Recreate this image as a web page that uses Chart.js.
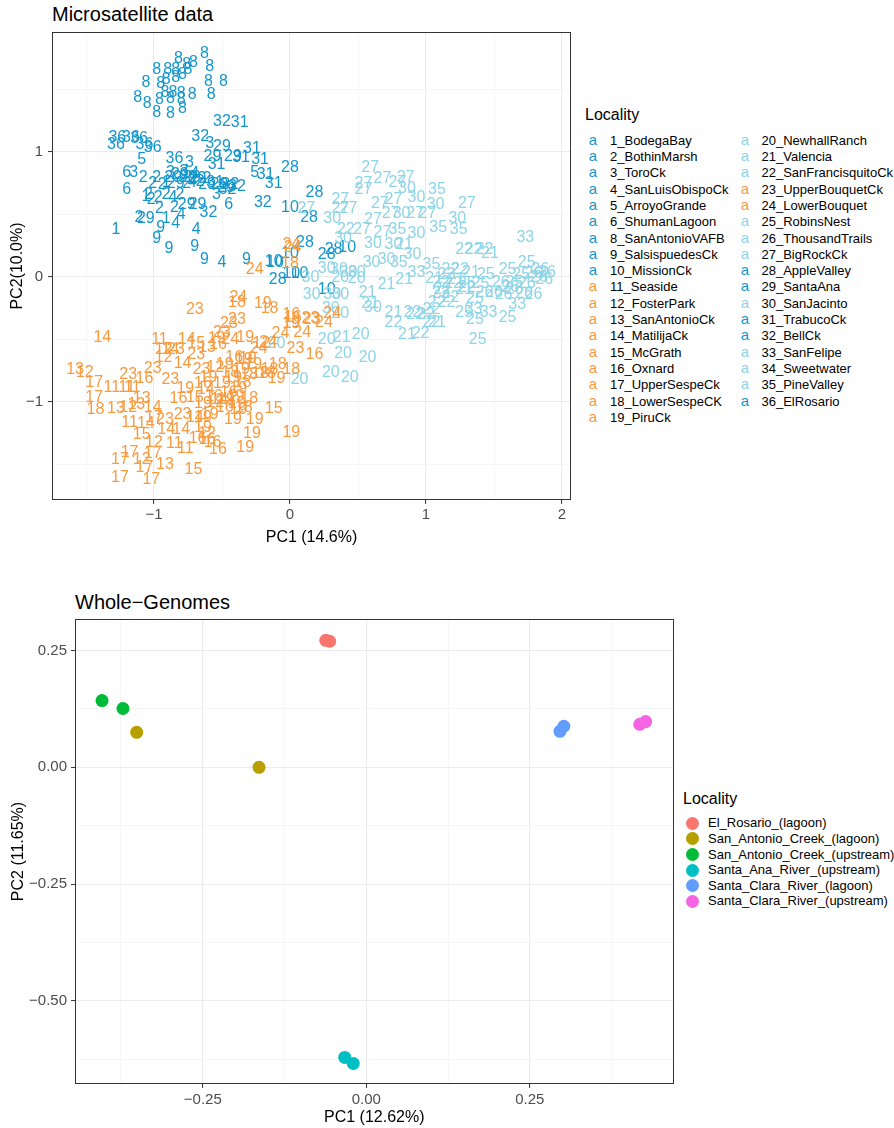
<!DOCTYPE html>
<html>
<head>
<meta charset="utf-8">
<script src="https://cdn.jsdelivr.net/npm/chart.js@4.4.0/dist/chart.umd.min.js"></script>
<style>
body { margin: 0; background: #fff; font-family: "Liberation Sans", Arial, sans-serif; }
#page { position: relative; width: 894px; height: 1128px; overflow: hidden; }
canvas { position: absolute; left: 0; }
.title { position: absolute; font-size: 20px; line-height: 24px; color: #000; white-space: nowrap; }
.legtitle { position: absolute; font-size: 16px; line-height: 20px; color: #000; white-space: nowrap; }
.legtext { position: absolute; font-size: 13px; line-height: 16px; color: #000; white-space: nowrap; }
.legkey { position: absolute; font-size: 15px; line-height: 16px; width: 16px; text-align: center; }
.legdot { position: absolute; width: 13px; height: 13px; border-radius: 50%; }
</style>
</head>
<body>
<div id="page">
  <div class="title" style="left:52px; top:2px;">Microsatellite data</div>
  <canvas id="msat" width="580" height="560" style="top:0px"></canvas>
  <div id="msatLegend"></div>

  <div class="title" style="left:75px; top:590px;">Whole−Genomes</div>
  <canvas id="wg" width="680" height="538" style="top:590px"></canvas>
  <div id="wgLegend"></div>
</div>
<script>
// ---- Microsatellite PCA (labels are locality numbers) ----
var localityNames = ["1_BodegaBay","2_BothinMarsh","3_ToroCk","4_SanLuisObispoCk","5_ArroyoGrande",
  "6_ShumanLagoon","8_SanAntonioVAFB","9_SalsispuedesCk","10_MissionCk","11_Seaside","12_FosterPark",
  "13_SanAntonioCk","14_MatilijaCk","15_McGrath","16_Oxnard","17_UpperSespeCk","18_LowerSespeCK",
  "19_PiruCk","20_NewhallRanch","21_Valencia","22_SanFrancisquitoCk","23_UpperBouquetCk",
  "24_LowerBouquet","25_RobinsNest","26_ThousandTrails","27_BigRockCk","28_AppleValley",
  "29_SantaAna","30_SanJacinto","31_TrabucoCk","32_BellCk","33_SanFelipe","34_Sweetwater",
  "35_PineValley","36_ElRosario"];
var blueNums = [1,2,3,4,5,6,8,9,10,28,29,31,32,36];
var orangeNums = [11,12,13,14,15,16,17,18,19,23,24];

// dark blue group
var blueLoc = [8,8,8,8,8,8,8,8,8,8,8,8,8,8,8,8,8,8,8,8,8,8,8,8,8,8,8,8,8,
  32,31,32,36,36,36,36,36,36,29,3,29,29,31,31,31,5,36,3,5,31,31,28,31,6,3,2,6,
  3,29,29,4,29,2,2,2,1,29,2,29,29,32,32,2,1,2,2,4,2,3,6,32,32,29,29,2,2,4,1,29,2,
  1,9,4,9,4,9,9,9,4,9,28,10,28,10,10,28,10,10,10,28,28,28,10,10,
  29,2,3,31,29,2,2,4,29,32];
var bluePC1 = [-0.63,-0.82,-0.71,-0.76,-0.98,-0.90,-0.84,-0.75,-0.59,-1.06,-0.91,-0.95,-0.84,-0.79,-0.60,-0.49,-1.12,-1.05,-0.96,-0.88,-0.92,-0.86,-0.80,-0.80,-0.72,-0.58,-0.98,-0.88,-0.79,
  -0.50,-0.37,-0.66,-1.27,-1.17,-1.11,-1.28,-1.01,-1.07,-0.50,-0.59,-0.57,-0.42,-0.28,-0.36,-0.22,-1.09,-0.85,-0.74,-0.26,-0.18,-0.12,0.00,-0.54,-1.20,-1.15,-1.08,-1.20,
  -0.88,-0.81,-0.75,-0.70,-0.68,-0.61,-0.98,-1.01,-0.91,-0.84,-0.76,-0.61,-0.52,-0.44,-0.39,-1.04,-1.06,-0.97,-0.91,-0.86,-0.81,-0.54,-0.45,-0.60,-0.20,-0.68,-0.76,-0.96,-0.85,-0.80,-0.91,-1.06,-1.11,
  -1.28,-0.95,-0.84,-0.98,-0.69,-0.89,-0.70,-0.63,-0.50,-0.32,0.18,0.00,0.14,-0.12,0.27,-0.09,0.01,-0.11,0.00,0.11,0.27,0.32,0.42,0.07,
  -0.72,-0.66,-0.78,-0.55,-0.86,-0.94,-1.02,-0.72,-0.47,-0.46];
var bluePC2 = [1.79,1.75,1.72,1.70,1.66,1.66,1.66,1.66,1.69,1.56,1.58,1.55,1.60,1.62,1.57,1.57,1.44,1.39,1.42,1.43,1.48,1.48,1.47,1.42,1.46,1.46,1.32,1.31,1.35,
  1.25,1.24,1.13,1.12,1.12,1.11,1.06,1.04,1.06,1.05,1.07,0.97,0.97,1.03,0.96,0.94,0.94,0.95,0.92,0.84,0.82,0.75,0.88,0.90,0.84,0.84,0.80,0.70,
  0.84,0.82,0.80,0.83,0.79,0.79,0.80,0.75,0.76,0.75,0.75,0.74,0.74,0.74,0.73,0.66,0.65,0.64,0.66,0.64,0.66,0.66,0.58,0.52,0.60,0.58,0.58,0.55,0.56,0.50,0.47,0.47,0.48,
  0.38,0.40,0.43,0.31,0.38,0.23,0.25,0.14,0.12,0.14,0.68,0.56,0.48,0.13,-0.10,-0.02,0.03,0.12,0.19,0.28,0.18,0.22,0.24,0.03,
  0.80,0.77,0.85,0.76,0.80,0.74,0.62,0.76,0.72,0.70];

// light blue group
var lightLoc = [27,30,27,27,27,27,27,27,27,27,27,30,30,35,30,27,27,27,27,30,27,27,30,35,35,27,27,22,30,27,35,30,
  30,30,21,30,30,30,35,35,33,21,21,21,21,30,30,30,30,30,20,20,30,30,30,30,30,20,20,21,20,20,20,20,20,20,20,
  33,22,22,22,21,22,22,21,25,25,25,26,26,26,21,22,22,25,26,26,25,26,26,26,26,26,33,25,22,22,21,25,22,22,
  25,33,25,33,22,22,22,21,22,21,22,25,21,22,22,
  26,26,25,26,22,21,22,25,26,22];
var lightPC1 = [0.12,0.31,0.37,0.37,0.43,0.59,0.54,0.54,0.68,0.79,0.85,0.86,0.93,1.08,1.07,1.30,0.66,0.76,0.74,0.82,0.92,1.01,1.23,1.09,1.24,0.61,0.53,0.41,0.39,0.68,0.79,0.93,
  0.61,0.76,0.84,0.90,0.60,0.71,0.80,1.04,0.93,0.84,0.71,0.57,0.59,0.61,0.27,0.36,0.43,0.49,0.37,0.49,0.15,0.16,0.31,0.37,0.30,0.37,0.27,0.38,0.52,0.39,0.57,0.30,0.44,0.07,-0.10,
  1.73,1.28,1.35,1.43,1.47,1.18,1.25,1.33,1.44,1.60,1.74,1.84,1.89,1.79,1.06,1.11,1.20,1.30,1.43,1.55,1.65,1.57,1.65,1.72,1.79,1.74,1.67,1.60,1.11,1.18,1.28,1.36,1.08,1.15,
  1.28,1.35,1.36,1.46,1.04,0.92,1.00,1.08,1.04,0.86,0.96,1.38,0.76,0.90,0.76,
  1.83,1.87,1.70,1.62,1.15,1.22,1.30,1.40,1.50,1.12];
var lightPC2 = [0.55,0.47,0.62,0.55,0.55,0.88,0.75,0.70,0.79,0.76,0.80,0.71,0.64,0.70,0.58,0.59,0.59,0.62,0.51,0.51,0.51,0.51,0.47,0.40,0.38,0.46,0.38,0.38,0.31,0.36,0.38,0.35,
  0.27,0.26,0.26,0.18,0.12,0.14,0.12,0.10,0.04,-0.02,-0.06,-0.12,-0.21,-0.24,0.07,0.06,0.04,0.04,0.00,-0.01,0.00,-0.14,-0.14,-0.14,-0.25,-0.29,-0.50,-0.48,-0.46,-0.61,-0.64,-0.76,-0.80,-0.82,-0.53,
  0.32,0.22,0.22,0.22,0.19,0.06,0.06,0.04,0.02,0.06,0.12,0.06,0.04,0.03,-0.01,-0.04,-0.05,-0.05,-0.12,-0.04,-0.04,-0.14,-0.10,-0.13,-0.14,-0.05,-0.22,-0.32,-0.13,-0.16,-0.10,-0.17,-0.20,-0.20,
  -0.28,-0.26,-0.34,-0.28,-0.26,-0.30,-0.30,-0.36,-0.36,-0.46,-0.45,-0.50,-0.28,-0.28,-0.36,
  0.00,-0.02,0.02,-0.08,0.02,-0.02,-0.08,-0.05,-0.12,-0.10];

// orange group
var orangeLoc = [24,18,19,18,23,23,23,16,23,14,11,14,15,13,16,23,19,24,19,12,14,23,23,14,12,23,23,16,23,12,13,17,11,11,11,17,18,13,12,13,13,14,
  11,14,17,23,14,14,23,14,19,19,19,12,15,12,11,11,16,16,16,16,19,19,19,19,15,19,17,17,12,17,17,13,17,17,15,
  18,19,16,19,19,18,19,19,15,16,19,19,16,23,12,19,14,19,19,18,16,19,18,18,18,19,18,12,24,24,24,23,24,16,19,24,24,23,16,19,18,24,18,24,24,
  19,16,18,19,16,19,14,12,18,19];
var orangePC1 = [-0.38,-0.39,-0.20,-0.15,-0.70,-0.39,-0.45,0.02,0.15,-1.38,-0.96,-0.76,-0.69,-0.61,-0.53,-0.50,-0.54,-0.44,-0.33,-0.93,-0.88,-0.84,-0.69,-0.79,-0.93,-1.01,-1.19,-1.07,-0.88,-1.51,-1.58,-1.44,-1.31,-1.16,-1.20,-1.44,-1.43,-1.28,-1.19,-1.09,-1.13,-1.01,
  -1.18,-1.06,-1.00,-0.92,-0.91,-0.80,-0.79,-0.70,-0.64,-0.59,-0.64,-0.61,-1.09,-1.00,-0.85,-0.77,-0.68,-0.61,-0.57,-0.53,-0.33,-0.28,-0.42,-0.26,-0.12,0.01,-1.18,-1.25,-1.09,-1.01,-1.07,-0.92,-1.25,-1.02,-0.71,
  -0.44,-0.36,-0.41,-0.34,-0.31,-0.30,-0.38,-0.50,-0.70,-0.82,-0.64,-0.77,-0.64,-0.65,-0.55,-0.48,-0.52,-0.47,-0.39,-0.34,-0.48,-0.38,-0.22,-0.15,-0.09,-0.10,0.01,-0.21,-0.07,-0.16,-0.23,0.04,0.09,0.18,0.01,0.31,0.25,0.16,0.01,0.01,-0.17,-0.26,0.00,0.01,0.02,
  -0.42,-0.45,-0.35,-0.40,-0.56,-0.60,-0.62,-0.55,-0.30,-0.27];
var orangePC2 = [-0.16,-0.20,-0.21,-0.25,-0.26,-0.34,-0.37,-0.32,-0.33,-0.48,-0.50,-0.50,-0.53,-0.56,-0.54,-0.44,-0.49,-0.50,-0.48,-0.58,-0.58,-0.58,-0.62,-0.69,-0.64,-0.73,-0.78,-0.81,-0.82,-0.76,-0.74,-0.84,-0.88,-0.88,-0.88,-0.96,-1.06,-1.05,-1.04,-0.97,-1.02,-1.04,
  -1.16,-1.17,-1.12,-1.14,-1.22,-1.22,-1.10,-1.12,-1.12,-1.10,-1.20,-1.25,-1.26,-1.32,-1.33,-1.37,-1.29,-1.30,-1.32,-1.38,-1.36,-1.25,-1.14,-1.14,-1.05,-1.24,-1.40,-1.46,-1.46,-1.41,-1.52,-1.50,-1.60,-1.62,-1.54,
  -0.76,-0.74,-0.64,-0.66,-0.65,-0.78,-0.89,-0.85,-0.96,-0.97,-1.01,-0.89,-0.85,-0.74,-0.72,-0.70,-0.98,-0.98,-1.01,-1.04,-1.04,-1.06,-0.77,-0.74,-0.70,-0.81,-0.74,-0.53,-0.45,-0.52,-0.57,-0.57,-0.44,-0.62,-0.37,-0.29,-0.36,-0.34,-0.30,-0.37,-0.77,0.06,0.11,0.26,0.24,
  -0.80,-0.92,-0.84,-0.95,-0.95,-0.80,-0.90,-1.00,-0.97,-0.70];

// ---- Whole-genome PCA ----
var wgLocalities = ["El_Rosario_(lagoon)","San_Antonio_Creek_(lagoon)","San_Antonio_Creek_(upstream)",
  "Santa_Ana_River_(upstream)","Santa_Clara_River_(lagoon)","Santa_Clara_River_(upstream)"];
var wgPC1 = [[-0.062,-0.056],[-0.351,-0.164],[-0.404,-0.372],[-0.033,-0.020],[0.296,0.302],[0.418,0.427]];
var wgPC2 = [[0.272,0.270],[0.075,0.000],[0.143,0.126],[-0.621,-0.634],[0.077,0.088],[0.092,0.098]];

// ---- styling ----
var FONT = '"Liberation Sans", Arial, sans-serif';
var colBlue = "#1596CB", colLight = "#8ED4E7", colOrange = "#F99A3E";
var wgColors = ["#F8766D","#B79F00","#00BA38","#00BFC4","#619CFF","#F564E3"];

function colourFor(n) {
  if (blueNums.indexOf(n) >= 0) return colBlue;
  if (orangeNums.indexOf(n) >= 0) return colOrange;
  return colLight;
}
function isMajor(v, major) {
  var r = v / major;
  return Math.abs(r - Math.round(r)) < 1e-6;
}
function minus(s) { return s.replace("-", "\u2212"); }

function makeScale(o) {
  return {
    type: "linear",
    position: o.position,
    min: o.min,
    max: o.max,
    afterFit: function (s) {
      if (o.position === "left") s.width = o.size; else s.height = o.size;
    },
    border: { display: false },
    grid: {
      color: function (c) { return c.tick && isMajor(c.tick.value, o.major) ? "#EBEBEB" : "#F2F2F2"; },
      lineWidth: function (c) { return c.tick && isMajor(c.tick.value, o.major) ? 1.1 : 0.7; },
      drawTicks: true,
      tickLength: 4,
      tickWidth: 1,
      tickColor: function (c) { return c.tick && isMajor(c.tick.value, o.major) ? "#333333" : "rgba(0,0,0,0)"; }
    },
    ticks: {
      stepSize: o.step,
      includeBounds: false,
      autoSkip: false,
      maxRotation: 0,
      minRotation: 0,
      padding: o.tickPad,
      color: "#4D4D4D",
      font: { family: FONT, size: 15 },
      callback: function (v) { return isMajor(v, o.major) ? minus(o.fmt(v)) : ""; }
    },
    title: {
      display: true,
      text: o.title,
      color: "#000000",
      font: { family: FONT, size: 16 },
      padding: o.titlePad
    }
  };
}

var panelBorder = {
  id: "panelBorder",
  afterDraw: function (chart) {
    var a = chart.chartArea, ctx = chart.ctx;
    ctx.save();
    ctx.strokeStyle = "#333333";
    ctx.lineWidth = 1;
    ctx.strokeRect(Math.round(a.left) + 0.5, Math.round(a.top) + 0.5,
      Math.round(a.right - a.left) - 1, Math.round(a.bottom - a.top) - 1);
    ctx.restore();
  }
};

// draws each point as its locality number
var textMarks = {
  id: "textMarks",
  afterDatasetsDraw: function (chart) {
    var ctx = chart.ctx;
    ctx.save();
    ctx.font = "16px " + FONT;
    ctx.textAlign = "center";
    ctx.textBaseline = "middle";
    chart.data.datasets.forEach(function (ds, i) {
      var meta = chart.getDatasetMeta(i);
      meta.data.forEach(function (pt, j) {
        var n = ds.locs[j];
        ctx.fillStyle = colourFor(n);
        ctx.fillText(String(n), pt.x, pt.y + 0.5);
      });
    });
    ctx.restore();
  }
};

function pts(xs, ys) {
  return xs.map(function (x, i) { return { x: x, y: ys[i] }; });
}

new Chart(document.getElementById("msat"), {
  type: "scatter",
  data: {
    datasets: [
      { data: pts(bluePC1, bluePC2), locs: blueLoc, pointRadius: 0, pointHoverRadius: 0 },
      { data: pts(lightPC1, lightPC2), locs: lightLoc, pointRadius: 0, pointHoverRadius: 0 },
      { data: pts(orangePC1, orangePC2), locs: orangeLoc, pointRadius: 0, pointHoverRadius: 0 }
    ]
  },
  options: {
    responsive: false,
    animation: false,
    events: [],
    layout: { padding: { left: 0, right: 9, top: 32, bottom: 0 } },
    plugins: { legend: { display: false }, tooltip: { enabled: false } },
    scales: {
      x: makeScale({ position: "bottom", min: -1.75, max: 2.066, step: 0.5, major: 1, size: 60,
        tickPad: 2, title: "PC1 (14.6%)", titlePad: { top: 0, bottom: 13 },
        fmt: function (v) { return String(v); } }),
      y: makeScale({ position: "left", min: -1.784, max: 1.96, step: 0.5, major: 1, size: 52,
        tickPad: 5, title: "PC2(10.0%)", titlePad: { top: 8, bottom: 0 },
        fmt: function (v) { return String(v); } })
    }
  },
  plugins: [textMarks, panelBorder]
});

new Chart(document.getElementById("wg"), {
  type: "scatter",
  data: {
    datasets: wgLocalities.map(function (name, i) {
      return {
        label: name,
        data: pts(wgPC1[i], wgPC2[i]),
        backgroundColor: wgColors[i],
        borderWidth: 0,
        pointRadius: 6.5,
        pointHoverRadius: 6.5
      };
    })
  },
  options: {
    responsive: false,
    animation: false,
    events: [],
    layout: { padding: { left: 0, right: 3, top: 29, bottom: 0 } },
    plugins: { legend: { display: false }, tooltip: { enabled: false } },
    scales: {
      x: makeScale({ position: "bottom", min: -0.4453, max: 0.4696, step: 0.125, major: 0.25, size: 44,
        tickPad: 3, title: "PC1 (12.62%)", titlePad: { top: 0, bottom: 1 },
        fmt: function (v) { return v.toFixed(2); } }),
      y: makeScale({ position: "left", min: -0.678, max: 0.3176, step: 0.125, major: 0.25, size: 75,
        tickPad: 4, title: "PC2 (11.65%)", titlePad: { top: 9, bottom: 0 },
        fmt: function (v) { return v.toFixed(2); } })
    }
  },
  plugins: [panelBorder]
});

// ---- legends (HTML text) ----
var msLeg = document.getElementById("msatLegend");
var h = '<div class="legtitle" style="left:585px; top:105px;">Locality</div>';
localityNames.forEach(function (name, i) {
  var col = i < 18 ? 0 : 1;
  var row = i < 18 ? i : i - 18;
  var cy = 140.7 + row * 16.3;
  var keyX = col === 0 ? 585 : 737;
  var txtX = col === 0 ? 610 : 761.5;
  var n = parseInt(name, 10);
  h += '<div class="legkey" style="left:' + keyX + 'px; top:' + (cy - 9) + 'px; color:' + colourFor(n) + ';">a</div>';
  h += '<div class="legtext" style="left:' + txtX + 'px; top:' + (cy - 8) + 'px;">' + name + '</div>';
});
msLeg.innerHTML = h;

var wgLeg = document.getElementById("wgLegend");
var g = '<div class="legtitle" style="left:683px; top:789px;">Locality</div>';
wgLocalities.forEach(function (name, i) {
  var cy = 823.3 + i * 15.6;
  g += '<div class="legdot" style="left:686px; top:' + (cy - 6.5) + 'px; background:' + wgColors[i] + ';"></div>';
  g += '<div class="legtext" style="left:708px; top:' + (cy - 8) + 'px;">' + name + '</div>';
});
wgLeg.innerHTML = g;
</script>
</body>
</html>
